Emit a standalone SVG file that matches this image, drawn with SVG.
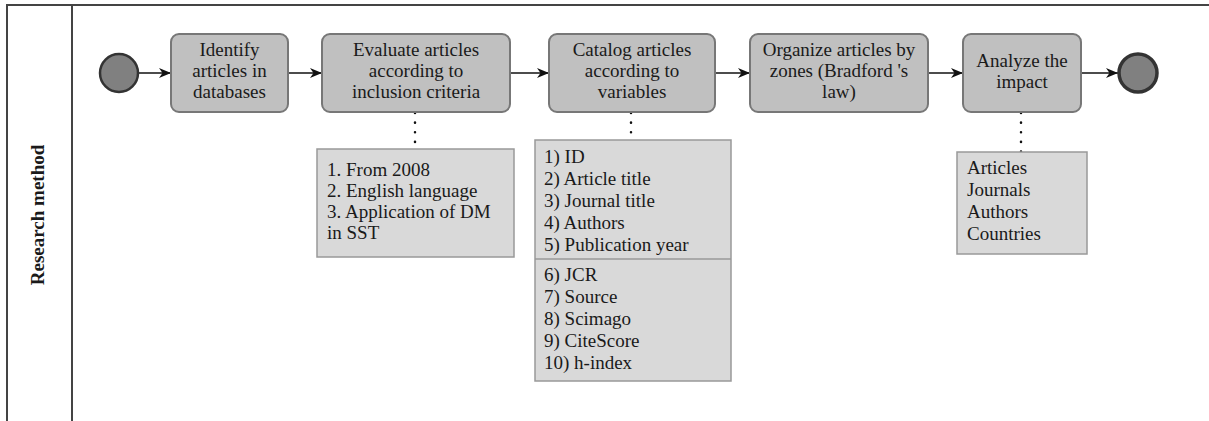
<svg xmlns="http://www.w3.org/2000/svg" width="1209" height="421" viewBox="0 0 1209 421">
<defs>
<style>
.lane{stroke:#444;stroke-width:2;fill:none}
.task{fill:#c0c0c0;stroke:#777;stroke-width:2}
.note{fill:#d9d9d9;stroke:#999;stroke-width:1.5}
.t{font-family:"Liberation Serif","Times New Roman",serif;font-size:19px;fill:#1a1a1a}
.c{text-anchor:middle}
.flow{stroke:#111;stroke-width:1.5;fill:none}
.dot{stroke:#111;stroke-width:2.5;stroke-dasharray:0.1 9.5;stroke-linecap:round;fill:none}
</style>
<marker id="arr" viewBox="0 0 12 10" refX="12" refY="5" markerWidth="12" markerHeight="10" markerUnits="userSpaceOnUse" orient="auto">
<path d="M0,0 L12,5 L0,10 L3.5,5 Z" fill="#111"/>
</marker>
</defs>
<rect width="1209" height="421" fill="#fff"/>
<g id="lane">
<path class="lane" d="M7,421 V5 H1209"/>
<path class="lane" d="M72,5 V421"/>
<text class="t" transform="translate(44,215) rotate(-90)" text-anchor="middle" font-weight="bold" font-size="19">Research method</text>
</g>
<g id="connectors">
<path class="flow" d="M138,73 H171" marker-end="url(#arr)"/>
<path class="flow" d="M288,73 H322" marker-end="url(#arr)"/>
<path class="flow" d="M510,73 H549" marker-end="url(#arr)"/>
<path class="flow" d="M715,73 H750" marker-end="url(#arr)"/>
<path class="flow" d="M928,73 H963" marker-end="url(#arr)"/>
<path class="flow" d="M1081,73 H1118" marker-end="url(#arr)"/>
<path class="dot" d="M415,113 V149"/>
<path class="dot" d="M631,113 V140"/>
<path class="dot" d="M1021,113 V152"/>
</g>
<g id="start"><circle cx="119" cy="73" r="19" fill="#808080" stroke="#333" stroke-width="2.5"/></g>
<g id="end"><circle cx="1138" cy="73" r="19" fill="#808080" stroke="#333" stroke-width="3.5"/></g>
<g id="task1">
<rect class="task" x="171" y="34" width="117" height="78" rx="8"/>
<text class="t c" x="229.5" y="56">Identify</text>
<text class="t c" x="229.5" y="77">articles in</text>
<text class="t c" x="229.5" y="98">databases</text>
</g>
<g id="task2">
<rect class="task" x="322" y="34" width="188" height="78" rx="8"/>
<text class="t c" x="416" y="56">Evaluate articles</text>
<text class="t c" x="416" y="77">according to</text>
<text class="t c" x="416" y="98">inclusion criteria</text>
</g>
<g id="task3">
<rect class="task" x="549" y="34" width="166" height="78" rx="8"/>
<text class="t c" x="632" y="56">Catalog articles</text>
<text class="t c" x="632" y="77">according to</text>
<text class="t c" x="632" y="98">variables</text>
</g>
<g id="task4">
<rect class="task" x="750" y="34" width="178" height="78" rx="8"/>
<text class="t c" x="839" y="56">Organize articles by</text>
<text class="t c" x="839" y="77">zones (Bradford 's</text>
<text class="t c" x="839" y="98">law)</text>
</g>
<g id="task5">
<rect class="task" x="963" y="34" width="118" height="78" rx="8"/>
<text class="t c" x="1022" y="67">Analyze the</text>
<text class="t c" x="1022" y="88">impact</text>
</g>
<g id="note1">
<rect class="note" x="317" y="149" width="197" height="108"/>
<text class="t" x="327" y="176">1. From 2008</text>
<text class="t" x="327" y="197">2. English language</text>
<text class="t" x="327" y="218">3. Application of DM</text>
<text class="t" x="327" y="239">in SST</text>
</g>
<g id="note2">
<rect class="note" x="535" y="140" width="196" height="241"/>
<path d="M535,259 H731" stroke="#999" stroke-width="1.5"/>
<text class="t" x="544" y="163">1) ID</text>
<text class="t" x="544" y="185">2) Article title</text>
<text class="t" x="544" y="207">3) Journal title</text>
<text class="t" x="544" y="229">4) Authors</text>
<text class="t" x="544" y="251">5) Publication year</text>
<text class="t" x="544" y="281">6) JCR</text>
<text class="t" x="544" y="303">7) Source</text>
<text class="t" x="544" y="325">8) Scimago</text>
<text class="t" x="544" y="347">9) CiteScore</text>
<text class="t" x="544" y="369">10) h-index</text>
</g>
<g id="note3">
<rect class="note" x="957" y="152" width="130" height="102"/>
<text class="t" x="967" y="174">Articles</text>
<text class="t" x="967" y="196">Journals</text>
<text class="t" x="967" y="218">Authors</text>
<text class="t" x="967" y="240">Countries</text>
</g>
</svg>
